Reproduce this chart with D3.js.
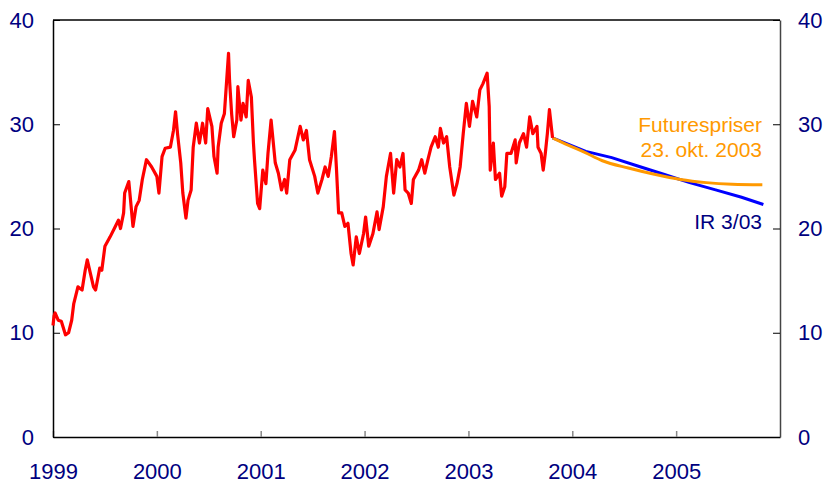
<!DOCTYPE html>
<html>
<head>
<meta charset="utf-8">
<script src="https://cdn.jsdelivr.net/npm/d3@7"></script>
<style>
  body { margin: 0; background: #fff; }
  svg { display: block; font-family: "Liberation Sans", Arial, sans-serif; }
</style>
</head>
<body>
<div id="container"></div>
<script>
// oil price (USD per barrel), decimal years
const spotYears = [1999.00,1999.01,1999.02,1999.05,1999.08,1999.12,1999.15,1999.18,1999.20,1999.24,1999.28,1999.31,1999.33,1999.36,1999.39,1999.41,1999.45,1999.47,1999.50,1999.55,1999.60,1999.63,1999.65,1999.68,1999.69,1999.73,1999.77,1999.80,1999.83,1999.86,1999.90,1999.95,
  2000.00,2000.02,2000.05,2000.08,2000.13,2000.16,2000.18,2000.20,2000.23,2000.25,2000.28,2000.30,2000.33,2000.35,2000.38,2000.41,2000.44,2000.47,2000.49,2000.53,2000.55,2000.58,2000.59,2000.62,2000.65,2000.67,2000.69,2000.70,2000.72,2000.74,2000.77,2000.78,2000.81,2000.83,2000.86,2000.88,2000.91,2000.93,2000.94,2000.97,2000.99,
  2001.02,2001.05,2001.07,2001.10,2001.14,2001.17,2001.20,2001.23,2001.25,2001.28,2001.33,2001.38,2001.41,2001.44,2001.47,2001.52,2001.55,2001.59,2001.62,2001.65,2001.68,2001.71,2001.73,2001.75,2001.78,2001.81,2001.84,2001.87,2001.89,2001.92,2001.95,2001.99,
  2002.01,2002.04,2002.08,2002.12,2002.14,2002.18,2002.21,2002.25,2002.28,2002.31,2002.34,2002.37,2002.39,2002.42,2002.45,2002.47,2002.52,2002.55,2002.58,2002.61,2002.64,2002.68,2002.71,2002.73,2002.76,2002.79,2002.82,2002.86,2002.89,2002.92,2002.95,2002.98,
  2003.01,2003.04,2003.08,2003.11,2003.14,2003.18,2003.20,2003.21,2003.24,2003.26,2003.30,2003.32,2003.35,2003.37,2003.41,2003.45,2003.46,2003.49,2003.53,2003.56,2003.59,2003.62,2003.66,2003.67,2003.70,2003.72,2003.74,2003.76,2003.78,2003.81];
const spotValues = [10.7,11.6,11.9,11.2,11.1,9.8,10.0,11.2,12.8,14.4,14.1,16.0,17.0,15.7,14.4,14.1,16.2,16.0,18.3,19.2,20.2,20.8,20.0,21.5,23.4,24.5,20.2,22.1,22.7,24.7,26.6,25.9,
  25.0,23.4,26.9,27.7,27.8,29.4,31.2,29.0,26.3,23.4,21.0,22.7,23.7,27.8,30.1,28.2,30.1,28.2,31.5,29.8,26.9,25.3,27.8,30.1,31.0,33.9,36.8,34.2,31.0,28.8,30.4,33.6,30.4,32.0,30.7,34.2,32.6,28.2,26.6,22.4,21.9,
  25.6,24.3,27.2,30.4,26.3,25.3,23.7,24.7,23.4,26.6,27.5,29.8,28.5,29.4,26.6,25.0,23.4,24.7,25.9,25.0,26.9,29.3,25.6,21.5,21.5,20.2,20.5,17.6,16.5,19.2,17.6,19.5,
  21.1,18.3,19.5,21.6,19.9,22.1,25.0,27.2,23.4,26.6,25.9,27.2,23.7,23.4,22.4,24.7,25.6,26.6,25.3,26.6,27.8,28.8,27.8,29.6,28.2,28.8,25.9,23.2,24.3,25.9,29.1,32.0,
  29.8,32.2,30.7,33.3,33.9,34.9,31.7,25.6,28.2,24.7,25.3,23.1,24.0,27.2,27.2,28.5,26.3,28.2,29.1,27.8,30.7,29.1,29.8,27.8,27.2,25.6,27.2,29.1,31.4,28.7];

// IR 3/03 path
const irYears = [2003.81,2004.13,2004.38,2004.63,2004.88,2005.13,2005.38,2005.63,2005.84];
const irValues = [28.7,27.4,26.8,26.0,25.2,24.4,23.7,23.0,22.3];

// futures prices 23 Oct 2003
const futYears = [2003.81,2003.96,2004.12,2004.29,2004.54,2004.79,2005.04,2005.29,2005.54,2005.83];
const futValues = [28.7,28.0,27.3,26.5,25.8,25.2,24.7,24.4,24.25,24.2];

const yearTicks = [1999,2000,2001,2002,2003,2004,2005];
const valueTicks = [0,10,20,30,40];

const w = 828, h = 483;
const padLeft = 53, padRight = 780, padTop = 20, padBottom = 437;
const navy = "#000080";

const x = d3.scaleLinear().domain([1999, 2006]).range([padLeft, padRight]);
const y = d3.scaleLinear().domain([0, 40]).range([padBottom, padTop]);

const svg = d3.select("#container").append("svg")
  .attr("width", w).attr("height", h);

// top frame line
svg.append("line")
  .attr("x1", padLeft).attr("x2", padRight)
  .attr("y1", padTop).attr("y2", padTop)
  .attr("stroke", "#000").attr("stroke-width", 1.5);

const xAxis = svg.append("g")
  .attr("transform", "translate(0," + padBottom + ")")
  .call(d3.axisBottom(x).tickValues(yearTicks).tickFormat(d3.format("d"))
    .tickSizeInner(-6).tickSizeOuter(0).tickPadding(26));
xAxis.select(".domain").attr("stroke", "#000").attr("stroke-width", 1.5);
xAxis.selectAll(".tick line").attr("stroke", "#888").attr("stroke-width", 1.5);

const yLeft = svg.append("g")
  .attr("transform", "translate(" + padLeft + ",0)")
  .call(d3.axisLeft(y).tickValues(valueTicks).tickSizeInner(-7).tickSizeOuter(0).tickPadding(19));
yLeft.select(".domain").attr("stroke", "#000").attr("stroke-width", 1.5);

const yRight = svg.append("g")
  .attr("transform", "translate(" + padRight + ",0)")
  .call(d3.axisRight(y).tickValues(valueTicks).tickSizeInner(-7).tickSizeOuter(0).tickPadding(18));
yRight.select(".domain").attr("stroke", "#444").attr("stroke-width", 1.5);

svg.selectAll(".tick text")
  .attr("fill", navy)
  .style("font-size", "22px")
  .style("font-family", "Liberation Sans, Arial, sans-serif");
yLeft.selectAll(".tick line").attr("stroke", "#000");
yRight.selectAll(".tick line").attr("stroke", "#000");

const line = d3.line().x(d => x(d[0])).y(d => y(d[1]));

svg.append("path")
  .datum(irYears.map((d, i) => [d, irValues[i]]))
  .attr("d", line)
  .attr("fill", "none").attr("stroke", "#0000ff").attr("stroke-width", 3);

svg.append("path")
  .datum(futYears.map((d, i) => [d, futValues[i]]))
  .attr("d", d3.line().x(d => x(d[0])).y(d => y(d[1])).curve(d3.curveMonotoneX))
  .attr("fill", "none").attr("stroke", "#ff9900").attr("stroke-width", 3);

svg.append("path")
  .datum(spotYears.map((d, i) => [d, spotValues[i]]))
  .attr("d", line)
  .attr("fill", "none").attr("stroke", "#ff0000").attr("stroke-width", 3.2)
  .attr("stroke-linejoin", "round");

const notes = svg.append("g")
  .attr("text-anchor", "end")
  .style("font-size", "21px");
notes.append("text").attr("x", 762).attr("y", 132).attr("fill", "#ff9900").text("Futurespriser");
notes.append("text").attr("x", 762).attr("y", 157).attr("fill", "#ff9900").text("23. okt. 2003");
notes.append("text").attr("x", 762).attr("y", 229).attr("fill", navy).text("IR 3/03");
</script>
</body>
</html>
